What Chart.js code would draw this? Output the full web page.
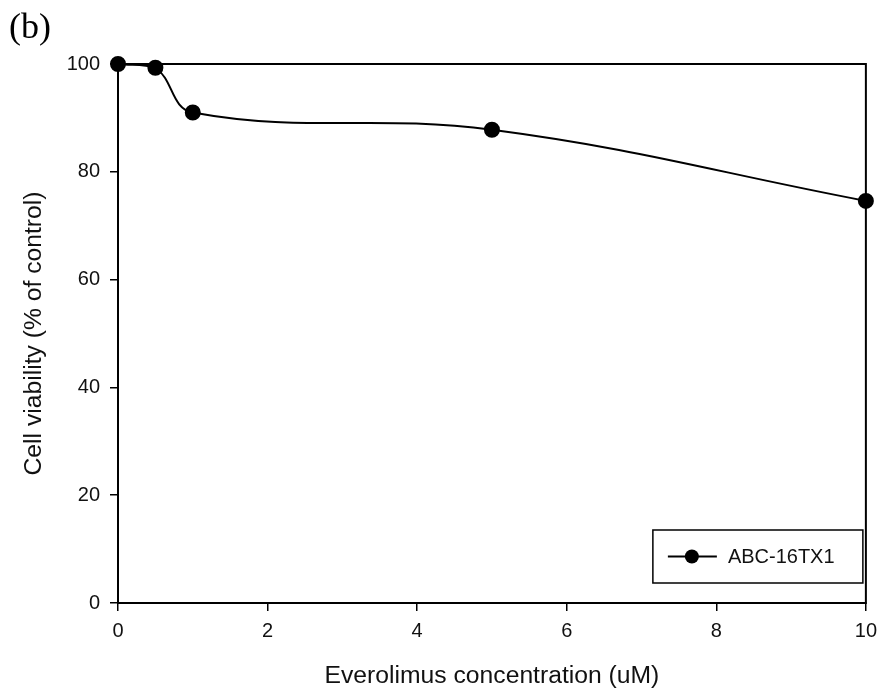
<!DOCTYPE html>
<html>
<head>
<meta charset="utf-8">
<script src="https://cdn.jsdelivr.net/npm/chart.js@4/dist/chart.umd.min.js"></script>
<style>
  html, body { margin: 0; padding: 0; background: #fff; }
  #wrap { width: 885px; height: 697px; }
</style>
</head>
<body>
<div id="wrap"><canvas id="chart" width="885" height="697"></canvas></div>
<script>
// Valores
const concentrations = [0, 0.5, 1, 5, 10];
const viability = [100, 99.3, 91, 87.8, 74.6];
const seriesLabel = 'ABC-16TX1';
const panelLabel = '(b)';
const xTitle = 'Everolimus concentration (uM)';
const yTitle = 'Cell viability (% of control)';

const FONT = 'Arial, "Liberation Sans", sans-serif';

// moldura completa em volta da área do gráfico
const framePlugin = {
  id: 'frame',
  beforeDatasetsDraw(chart) {
    const { ctx, chartArea: a } = chart;
    ctx.save();
    ctx.strokeStyle = '#000';
    ctx.lineWidth = 2;
    ctx.strokeRect(a.left, a.top, a.right - a.left, a.bottom - a.top);
    ctx.restore();
  }
};

// legenda dentro da área, canto inferior direito
const insideLegend = {
  id: 'insideLegend',
  afterDatasetsDraw(chart) {
    const { ctx, chartArea: a } = chart;
    const ds = chart.data.datasets[0];
    const w = 210, h = 53;
    const x = a.right - 3 - w, y = a.bottom - 20 - h;
    ctx.save();
    ctx.fillStyle = '#fff';
    ctx.fillRect(x, y, w, h);
    ctx.strokeStyle = '#000';
    ctx.lineWidth = 1.5;
    ctx.strokeRect(x, y, w, h);
    const cy = y + h / 2;
    ctx.beginPath();
    ctx.moveTo(x + 15, cy);
    ctx.lineTo(x + 64, cy);
    ctx.lineWidth = ds.borderWidth;
    ctx.stroke();
    ctx.beginPath();
    ctx.arc(x + 39, cy, ds.pointRadius, 0, Math.PI * 2);
    ctx.fillStyle = ds.pointBackgroundColor;
    ctx.fill();
    ctx.fillStyle = '#111';
    ctx.font = '20px ' + FONT;
    ctx.textBaseline = 'middle';
    ctx.textAlign = 'left';
    ctx.fillText(ds.label, x + 75, cy + 1);
    ctx.restore();
  }
};

const panelPlugin = {
  id: 'panel',
  afterDraw(chart) {
    const { ctx } = chart;
    ctx.save();
    ctx.fillStyle = '#000';
    ctx.font = '36px "Liberation Serif", "Times New Roman", serif';
    ctx.textBaseline = 'alphabetic';
    ctx.fillText(panelLabel, 9, 38);
    ctx.restore();
  }
};

const ctx = document.getElementById('chart').getContext('2d');
new Chart(ctx, {
  type: 'line',
  data: {
    datasets: [{
      label: seriesLabel,
      data: concentrations.map((c, i) => ({ x: c, y: viability[i] })),
      borderColor: '#000',
      borderWidth: 2,
      pointRadius: 7,
      pointBackgroundColor: '#000',
      pointBorderColor: '#000',
      tension: 0.4,
      clip: false
    }]
  },
  options: {
    responsive: false,
    animation: false,
    layout: { padding: { top: 64, right: 19, bottom: 0, left: 0 } },
    plugins: {
      legend: { display: false },
      tooltip: { enabled: false }
    },
    scales: {
      x: {
        type: 'linear',
        min: 0,
        max: 10,
        ticks: { stepSize: 2, color: '#111', font: { family: FONT, size: 20 }, padding: 8, maxRotation: 0 },
        grid: { drawOnChartArea: false, drawTicks: true, tickLength: 8, color: '#000', lineWidth: 1.5 },
        border: { display: true, color: '#000', width: 2 },
        title: { display: true, text: xTitle, color: '#111', font: { family: FONT, size: 24.7 }, padding: { top: 0, bottom: 6 } },
        afterFit(scale) { scale.height = 94; }
      },
      y: {
        min: 0,
        max: 100,
        ticks: { stepSize: 20, color: '#111', font: { family: FONT, size: 20 }, padding: 10 },
        grid: { drawOnChartArea: false, drawTicks: true, tickLength: 8, color: '#000', lineWidth: 1.5 },
        border: { display: true, color: '#000', width: 2 },
        title: { display: true, text: yTitle, color: '#111', font: { family: FONT, size: 24.7 }, padding: { top: 19, bottom: 0 } },
        afterFit(scale) { scale.width = 118; }
      }
    }
  },
  plugins: [framePlugin, insideLegend, panelPlugin]
});
</script>
</body>
</html>
